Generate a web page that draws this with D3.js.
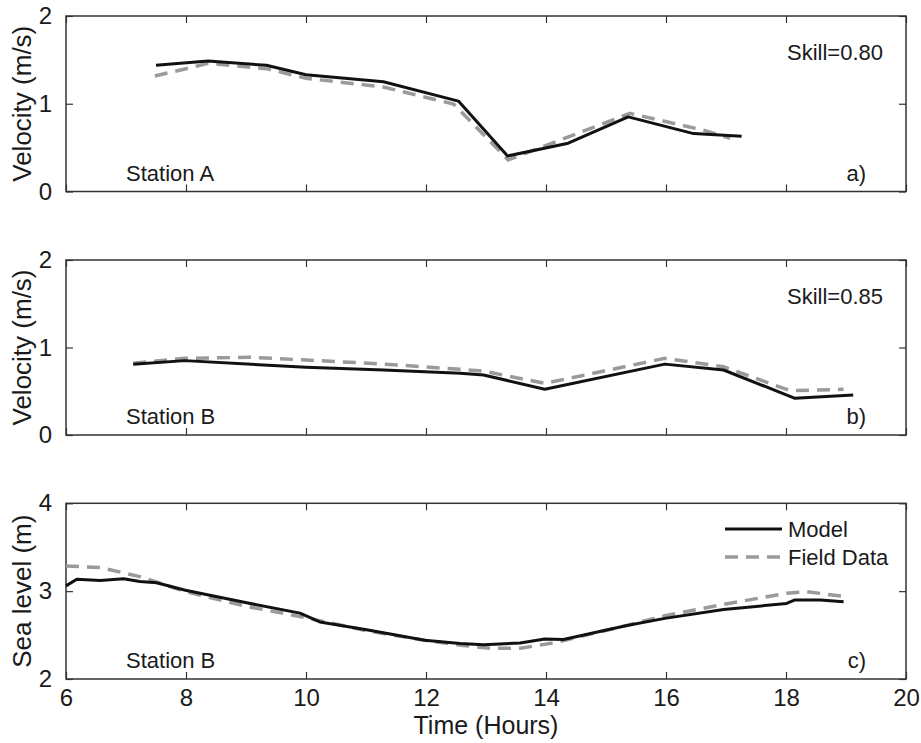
<!DOCTYPE html>
<html><head><meta charset="utf-8">
<script src="https://cdn.jsdelivr.net/npm/d3@7"></script>
<style>body{margin:0;background:#fff}svg{display:block}text{font-family:"Liberation Sans",Arial,sans-serif;fill:#1a1a1a}</style>
</head><body>
<script>
// ---- data ----
const xTicks = [6, 8, 10, 12, 14, 16, 18, 20];
const aModelT = [7.5, 8.37, 9.34, 10.0, 11.29, 12.54, 13.36, 14.37, 15.37, 16.46, 17.26];
const aModelV = [1.44, 1.487, 1.438, 1.33, 1.25, 1.03, 0.405, 0.55, 0.85, 0.66, 0.63];
const aFieldT = [7.48, 8.37, 9.34, 10.0, 11.29, 12.46, 13.37, 15.4, 16.62, 17.07];
const aFieldV = [1.316, 1.46, 1.40, 1.29, 1.19, 0.997, 0.36, 0.89, 0.70, 0.606];
const bModelT = [7.12, 7.98, 10.0, 11.29, 12.57, 12.96, 13.98, 15.98, 16.96, 18.15, 19.12];
const bModelV = [0.808, 0.85, 0.774, 0.743, 0.705, 0.686, 0.522, 0.81, 0.743, 0.419, 0.457];
const bFieldT = [7.12, 7.98, 9.07, 10.0, 11.29, 12.57, 12.96, 13.98, 15.98, 16.96, 18.07, 18.96];
const bFieldV = [0.82, 0.876, 0.888, 0.857, 0.811, 0.751, 0.73, 0.59, 0.876, 0.78, 0.506, 0.522];
const cModelT = [6.0, 6.18, 6.57, 6.96, 7.23, 7.51, 7.99, 8.99, 9.9, 10.23, 11.01, 11.98, 12.57, 12.96, 13.57, 13.98, 14.29, 15.35, 15.98, 16.96, 18.01, 18.15, 18.57, 18.96];
const cModelV = [3.06, 3.135, 3.12, 3.14, 3.11, 3.095, 3.01, 2.87, 2.75, 2.65, 2.56, 2.44, 2.405, 2.39, 2.41, 2.455, 2.45, 2.61, 2.69, 2.79, 2.86, 2.90, 2.90, 2.88];
const cFieldT = [6.0, 6.57, 7.23, 7.99, 8.99, 9.98, 11.01, 11.98, 12.57, 13.07, 13.57, 14.12, 15.35, 15.98, 16.96, 18.01, 18.34, 18.96];
const cFieldV = [3.285, 3.27, 3.165, 2.995, 2.83, 2.70, 2.55, 2.44, 2.385, 2.35, 2.35, 2.41, 2.61, 2.72, 2.85, 2.975, 2.995, 2.94];
const panels = [
  {top:16, bot:191.5, dom:[0,2], yt:[0,1,2], ylab:"Velocity (m/s)", mT:aModelT, mV:aModelV, fT:aFieldT, fV:aFieldV, station:"Station A", tag:"a)", skill:"Skill=0.80"},
  {top:260, bot:435, dom:[0,2], yt:[0,1,2], ylab:"Velocity (m/s)", mT:bModelT, mV:bModelV, fT:bFieldT, fV:bFieldV, station:"Station B", tag:"b)", skill:"Skill=0.85"},
  {top:503.3, bot:679, dom:[2,4], yt:[2,3,4], ylab:"Sea level (m)", mT:cModelT, mV:cModelV, fT:cFieldT, fV:cFieldV, station:"Station B", tag:"c)", skill:null}
];
const legendLabels = ["Model", "Field Data"];

// ---- drawing ----
const W = 921, H = 743;
const svg = d3.select("body").append("svg").attr("width", W).attr("height", H);
const x = d3.scaleLinear().domain([6, 20]).range([66, 906]);
const axisCol = "#333";
const modelCol = "#111", fieldCol = "#9a9a9a";

panels.forEach((p, i) => {
  const y = d3.scaleLinear().domain(p.dom).range([p.bot, p.top]);
  const g = svg.append("g");
  const last = i === panels.length - 1;
  const tk = 7;
  const axB = d3.axisBottom(x).tickValues(xTicks).tickSizeInner(-tk).tickSizeOuter(0).tickPadding(10).tickFormat(last ? d3.format("d") : "");
  const axT = d3.axisTop(x).tickValues(xTicks).tickSizeInner(-tk).tickSizeOuter(0).tickFormat("");
  const axL = d3.axisLeft(y).tickValues(p.yt).tickSizeInner(-tk).tickSizeOuter(0).tickPadding(14).tickFormat(d3.format("d"));
  const axR = d3.axisRight(y).tickValues(p.yt).tickSizeInner(-tk).tickSizeOuter(0).tickFormat("");
  [[axB, `translate(0,${p.bot})`], [axT, `translate(0,${p.top})`], [axL, `translate(66,0)`], [axR, `translate(906,0)`]].forEach(([ax, tr]) => {
    const a = g.append("g").attr("transform", tr).call(ax);
    a.select(".domain").remove();
    a.selectAll("line").attr("stroke", axisCol).attr("stroke-width", 1.2);
    a.selectAll("text").attr("font-size", 24).attr("fill", "#1a1a1a").style("font-family", '"Liberation Sans",Arial,sans-serif');
  });
  g.append("rect").attr("x", x(6)).attr("y", p.top).attr("width", x(20) - x(6)).attr("height", p.bot - p.top)
    .attr("fill", "none").attr("stroke", axisCol).attr("stroke-width", 1.5);
  const line = d3.line().x(d => x(d[0])).y(d => y(d[1]));
  const fd = p.fT.map((t, k) => [t, p.fV[k]]);
  const md = p.mT.map((t, k) => [t, p.mV[k]]);
  g.append("path").attr("d", line(fd)).attr("fill", "none").attr("stroke", fieldCol).attr("stroke-width", 3.5).attr("stroke-dasharray", "13,8");
  g.append("path").attr("d", line(md)).attr("fill", "none").attr("stroke", modelCol).attr("stroke-width", 3).attr("stroke-linejoin", "round");
  g.append("text").attr("transform", `translate(31,${(p.top + p.bot) / 2}) rotate(-90)`).attr("text-anchor", "middle")
    .attr("font-size", 26).text(p.ylab);
  g.append("text").attr("x", 126).attr("y", p.bot - 11).attr("font-size", 22).text(p.station);
  g.append("text").attr("x", 866).attr("y", p.bot - 11).attr("font-size", 22).attr("text-anchor", "end").text(p.tag);
  if (p.skill) g.append("text").attr("x", 883).attr("y", p.top + 44).attr("font-size", 22).attr("text-anchor", "end").text(p.skill);
  if (last) {
    g.append("text").attr("x", 486).attr("y", 734).attr("text-anchor", "middle").attr("font-size", 25).text("Time (Hours)");
    const ly = [529, 557];
    legendLabels.forEach((lab, k) => {
      g.append("line").attr("x1", 725).attr("x2", 782).attr("y1", ly[k]).attr("y2", ly[k])
        .attr("stroke", k === 0 ? modelCol : fieldCol).attr("stroke-width", k === 0 ? 3 : 3.5)
        .attr("stroke-dasharray", k === 0 ? null : "13,8");
      g.append("text").attr("x", 788).attr("y", ly[k] + 8).attr("font-size", 22).text(lab);
    });
  }
});
</script>
</body></html>
